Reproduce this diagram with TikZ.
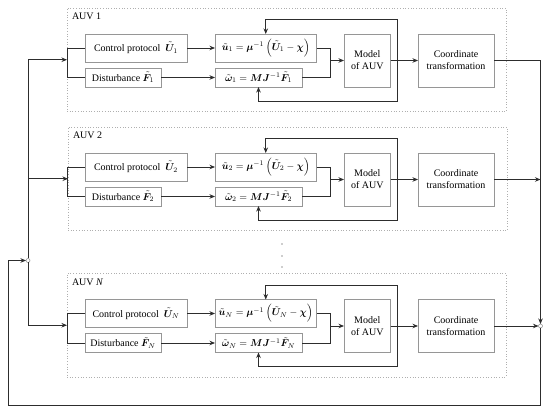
\documentclass[tikz,border=0pt]{standalone}
\usepackage{fontspec}
\setmainfont{Liberation Serif}
\usepackage{amsmath,bm}
\usepackage{tikz}
\usetikzlibrary{positioning, arrows.meta, calc}
\definecolor{cB}{RGB}{150,150,150}
\definecolor{cL}{RGB}{45,45,45}
\definecolor{cD}{RGB}{175,175,175}

\begin{document}
\begin{tikzpicture}[x=1pt, y=1pt, >={Stealth[length=5.5pt,width=4.5pt]}, line width=0.75pt, draw=cL,
    every node/.style={inner sep=0pt, outer sep=0pt},
    blk/.style={draw=cB, line width=0.6pt, fill=white, minimum height=28pt, align=center},
    frm/.style={draw=cD, dotted, line width=0.7pt, minimum width=439pt, minimum height=103.5pt, anchor=north west},
    junc/.style={circle, draw=cB, fill=white, line width=0.6pt, minimum size=4pt}]
    \useasboundingbox (0,0) rectangle (550,412);

    % AUV 1
    \node[frm] (auv1) at (67,404) {};
    \node[anchor=west] at ([xshift=5pt,yshift=-8.5pt]auv1.north west) {AUV 1};
    \node[blk, minimum width=102pt, anchor=west] (cp1) at (85,364) {Control protocol~~$\tilde{\bm U}_1$};
    \node[blk, minimum width=76pt, minimum height=19pt, below=6pt of cp1.south west, anchor=north west] (dist1) {Disturbance $\tilde{\bm F}_1$};
    \node[blk, minimum width=101.5pt, right=28pt of cp1] (eqa1) {$\tilde{\bm u}_1=\bm\mu^{-1}\left(\tilde{\bm U}_1-\bm\chi\right)$};
    \node[blk, minimum width=87pt, minimum height=19pt, right=54pt of dist1] (eqb1) {$\tilde{\bm\omega}_1=\bm M\bm J^{-1}\tilde{\bm F}_1$};
    \node[blk, minimum width=46.5pt, minimum height=53pt, right=27.5pt of eqa1.north east, anchor=north west] (mod1) {Model\\of AUV};
    \node[blk, minimum width=76pt, minimum height=53pt, right=27.5pt of mod1] (crd1) {Coordinate\\transformation};

    \draw (cp1.west) -- ++(-18,0) |- (dist1.west);
    \draw[->] (cp1) -- (eqa1);
    \draw[->] (dist1) -- (eqb1);
    \draw (eqa1.east) -- ++(14,0) |- (eqb1.east);
    \draw[->] ([xshift=14pt]eqa1.east) |- (mod1.west);
    \draw[->] (mod1) -- (crd1);
    \draw[->] (mod1.east) -- ++(6.5,0) |- ([yshift=14.5pt]eqa1.north) -- (eqa1.north);
    \draw[->] (mod1.east) -- ++(6.5,0) |- ([yshift=-14pt]eqb1.south) -- (eqb1.south);

    % AUV 2
    \node[frm] (auv2) at (68,285) {};
    \node[anchor=west] at ([xshift=5pt,yshift=-8.5pt]auv2.north west) {AUV 2};
    \node[blk, minimum width=102pt, anchor=west] (cp2) at (85,245) {Control protocol~~$\tilde{\bm U}_2$};
    \node[blk, minimum width=76pt, minimum height=19pt, below=6pt of cp2.south west, anchor=north west] (dist2) {Disturbance $\tilde{\bm F}_2$};
    \node[blk, minimum width=101.5pt, right=28pt of cp2] (eqa2) {$\tilde{\bm u}_2=\bm\mu^{-1}\left(\tilde{\bm U}_2-\bm\chi\right)$};
    \node[blk, minimum width=87pt, minimum height=19pt, right=54pt of dist2] (eqb2) {$\tilde{\bm\omega}_2=\bm M\bm J^{-1}\tilde{\bm F}_2$};
    \node[blk, minimum width=46.5pt, minimum height=53pt, right=27.5pt of eqa2.north east, anchor=north west] (mod2) {Model\\of AUV};
    \node[blk, minimum width=76pt, minimum height=53pt, right=27.5pt of mod2] (crd2) {Coordinate\\transformation};

    \draw (cp2.west) -- ++(-18,0) |- (dist2.west);
    \draw[->] (cp2) -- (eqa2);
    \draw[->] (dist2) -- (eqb2);
    \draw (eqa2.east) -- ++(14,0) |- (eqb2.east);
    \draw[->] ([xshift=14pt]eqa2.east) |- (mod2.west);
    \draw[->] (mod2) -- (crd2);
    \draw[->] (mod2.east) -- ++(6.5,0) |- ([yshift=14.5pt]eqa2.north) -- (eqa2.north);
    \draw[->] (mod2.east) -- ++(6.5,0) |- ([yshift=-14pt]eqb2.south) -- (eqb2.south);

    % vertical dots
    \fill[cL] (282,168) circle (0.7) (282,156) circle (0.7) (282,145) circle (0.7);

    % AUV N
    \node[frm] (auvN) at (67,138.5) {};
    \node[anchor=west] at ([xshift=5pt,yshift=-8.5pt]auvN.north west) {AUV \textit{N}};
    \node[blk, minimum width=102pt, anchor=west] (cpN) at (85,98.5) {Control protocol~~$\tilde{\bm U}_N$};
    \node[blk, minimum width=76pt, minimum height=19pt, below=6pt of cpN.south west, anchor=north west] (distN) {Disturbance $\tilde{\bm F}_N$};
    \node[blk, minimum width=101.5pt, right=28pt of cpN] (eqaN) {$\tilde{\bm u}_N=\bm\mu^{-1}\left(\tilde{\bm U}_N-\bm\chi\right)$};
    \node[blk, minimum width=87pt, minimum height=19pt, right=54pt of distN] (eqbN) {$\tilde{\bm\omega}_N=\bm M\bm J^{-1}\tilde{\bm F}_N$};
    \node[blk, minimum width=46.5pt, minimum height=53pt, right=27.5pt of eqaN.north east, anchor=north west] (modN) {Model\\of AUV};
    \node[blk, minimum width=76pt, minimum height=53pt, right=27.5pt of modN] (crdN) {Coordinate\\transformation};

    \draw (cpN.west) -- ++(-18,0) |- (distN.west);
    \draw[->] (cpN) -- (eqaN);
    \draw[->] (distN) -- (eqbN);
    \draw (eqaN.east) -- ++(14,0) |- (eqbN.east);
    \draw[->] ([xshift=14pt]eqaN.east) |- (modN.west);
    \draw[->] (modN) -- (crdN);
    \draw[->] (modN.east) -- ++(6.5,0) |- ([yshift=14.5pt]eqaN.north) -- (eqaN.north);
    \draw[->] (modN.east) -- ++(6.5,0) |- ([yshift=-14pt]eqbN.south) -- (eqbN.south);

    % Buses and feedback
    \node[junc] (lc) at (28,151.5) {};
    \node[junc] (rc) at (540.5,86) {};
    \coordinate (fb) at (8,7);
    \draw[->] (lc.north) |- (auv1.west);
    \draw[->] (lc.north) |- (auv2.west);
    \draw[->] (lc.south) |- (auvN.west);
    \draw[->] (crd1.east) -| (rc.north);
    \draw[->] (crd2.east) -- (crd2.east -| rc);
    \draw[->] (crdN.east) -- (rc.west);
    \draw[->] (rc.south) |- (fb) |- (lc.west);
\end{tikzpicture}
\end{document}
